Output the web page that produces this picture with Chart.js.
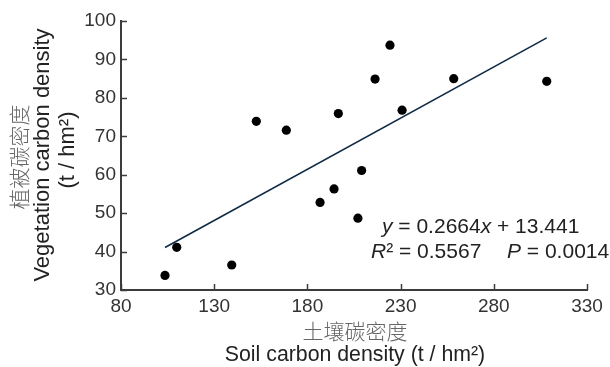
<!DOCTYPE html>
<html><head><meta charset="utf-8">
<script src="https://cdn.jsdelivr.net/npm/chart.js@4.4.0/dist/chart.umd.min.js"></script>
<style>html,body{margin:0;padding:0;background:#fff}#wrap{width:610px;height:367px;position:relative}</style>
</head><body><div id="wrap"><canvas id="c" width="610" height="367"></canvas></div>
<script>
// Data
const soilCarbon = [103.6, 109.9, 139.4, 152.6, 168.7, 186.8, 194.3, 196.6, 207.1, 209.1, 216.3, 224.3, 230.8, 258.5, 308.4];
const vegCarbon  = [33.8, 41.1, 36.5, 73.9, 71.6, 52.8, 56.3, 75.9, 48.7, 61.1, 84.9, 93.7, 76.8, 85.0, 84.3];
const xTicks = [80, 130, 180, 230, 280, 330];
const yTicks = [30, 40, 50, 60, 70, 80, 90, 100];
const fitSlope = 0.2664;
const fitIntercept = 13.441;
const fitR2 = '0.5567';
const fitP = '0.0014';
const yTitleLines = ['植被碳密度', 'Vegetation carbon density', '(t / hm²)'];
const xTitleLines = ['土壤碳密度', 'Soil carbon density (t / hm²)'];

const points = soilCarbon.map((x, i) => ({x: x, y: vegCarbon[i]}));
const xMin = Math.min(...soilCarbon), xMax = Math.max(...soilCarbon);
const fitLine = [{x: xMin, y: fitSlope * xMin + fitIntercept}, {x: xMax, y: fitSlope * xMax + fitIntercept}];

const FONT = '"Liberation Sans", Arial, sans-serif';
const CJK = '"Noto Sans CJK SC", sans-serif';
const AXIS = '#3c3c3c';

const decor = {
  id: 'decor',
  afterDraw(chart) {
    const ctx = chart.ctx, xs = chart.scales.x, ys = chart.scales.y, a = chart.chartArea;
    ctx.save();
    // inward ticks
    ctx.strokeStyle = AXIS; ctx.lineWidth = 1.5;
    xTicks.forEach(v => { const px = Math.round(xs.getPixelForValue(v)) + 0.5; ctx.beginPath(); ctx.moveTo(px, a.bottom); ctx.lineTo(px, a.bottom - 6); ctx.stroke(); });
    yTicks.forEach(v => { const py = Math.round(ys.getPixelForValue(v)) + 0.5; ctx.beginPath(); ctx.moveTo(a.left, py); ctx.lineTo(a.left + 6, py); ctx.stroke(); });
    // y title
    ctx.save();
    ctx.translate(0, 155);
    ctx.rotate(-Math.PI / 2);
    ctx.textAlign = 'center'; ctx.textBaseline = 'middle';
    ctx.fillStyle = '#666'; ctx.font = '300 21px ' + CJK;
    ctx.fillText(yTitleLines[0], -2, 19);
    ctx.fillStyle = '#222'; ctx.font = '22px ' + FONT;
    ctx.fillText(yTitleLines[1], 0, 43);
    ctx.fillText(yTitleLines[2], 5, 68);
    ctx.restore();
    // x title
    ctx.textAlign = 'center'; ctx.textBaseline = 'middle';
    ctx.fillStyle = '#666'; ctx.font = '300 21px ' + CJK;
    ctx.fillText(xTitleLines[0], 355, 331);
    ctx.fillStyle = '#222'; ctx.font = '21.3px ' + FONT;
    ctx.textBaseline = 'alphabetic';
    ctx.fillText(xTitleLines[1], 355, 361);
    // annotation
    ctx.textAlign = 'left'; ctx.textBaseline = 'middle'; ctx.fillStyle = '#222';
    const seq = (parts, x, y) => { parts.forEach(([t, it]) => { ctx.font = (it ? 'italic ' : '') + '21px ' + FONT; ctx.fillText(t, x, y); x += ctx.measureText(t).width; }); };
    seq([['y', 1], [' = ' + fitSlope.toFixed(4), 0], ['x', 1], [' + ' + fitIntercept.toFixed(3), 0]], 382, 227);
    seq([['R', 1], ['² = ' + fitR2, 0]], 371, 252);
    seq([['P', 1], [' = ' + fitP, 0]], 507, 252);
    ctx.restore();
  }
};

new Chart(document.getElementById('c'), {
  type: 'scatter',
  data: {
    datasets: [
      {data: points, backgroundColor: '#000', borderWidth: 0, pointRadius: 4.6, pointHoverRadius: 4.6},
      {data: fitLine, showLine: true, borderColor: '#0f2a44', borderWidth: 1.6, pointRadius: 0, fill: false}
    ]
  },
  options: {
    responsive: false, devicePixelRatio: 1, animation: false,
    layout: {padding: {top: 21, right: 23, left: 0, bottom: 0}},
    plugins: {legend: {display: false}, tooltip: {enabled: false}},
    scales: {
      x: {
        type: 'linear', min: 80, max: 330,
        afterBuildTicks: s => { s.ticks = xTicks.map(v => ({value: v})); },
        afterFit: s => { s.height = 77; },
        ticks: {font: {size: 19, family: FONT}, color: '#333', padding: 5, maxRotation: 0, autoSkip: false},
        grid: {drawOnChartArea: false, drawTicks: false},
        border: {color: AXIS, width: 2}
      },
      y: {
        type: 'linear', min: 30, max: 100,
        afterBuildTicks: s => { s.ticks = yTicks.map(v => ({value: v})); },
        afterFit: s => { s.width = 121; },
        ticks: {font: {size: 19, family: FONT}, color: '#333', padding: 5, autoSkip: false},
        grid: {drawOnChartArea: false, drawTicks: false},
        border: {color: AXIS, width: 2}
      }
    }
  },
  plugins: [decor]
});
</script></body></html>
